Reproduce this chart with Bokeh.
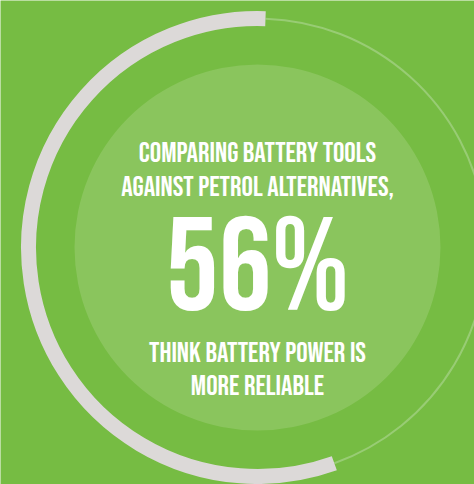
import math
from bokeh.plotting import figure
from bokeh.models import Range1d
from bokeh.core.properties import value
from bokeh.embed import file_html
from bokeh.resources import INLINE

# ---- data ----
percent = [56]
top_lines = ["COMPARING BATTERY TOOLS", "AGAINST PETROL ALTERNATIVES,"]
bottom_lines = ["THINK BATTERY POWER IS", "MORE RELIABLE"]
big_label = [f"{percent[0]}%"]

# ---- layout ----
W, H = 474, 484
cx, cy = 257, H - 247
R_ring = 229
R_inner = 183
start_deg = 88.0
end_deg = start_deg + percent[0] / 100 * 360

BG = "#76bc43"
INNER = "#8ac55d"
GREY = "#dcd9d8"
THIN = "#98cc74"
FONT = "Bebas Neue"

p = figure(width=W, height=H, x_range=Range1d(0, W), y_range=Range1d(0, H),
           x_axis_type=None, y_axis_type=None, toolbar_location=None,
           output_backend="svg", min_border=0)
p.grid.visible = False
p.outline_line_color = None
p.background_fill_color = BG
p.border_fill_color = BG

p.circle(x=[cx], y=[cy], radius=R_inner, fill_color=INNER, line_color=None)

# thin remainder track
p.arc(x=[cx], y=[cy], radius=R_ring, start_angle=math.radians(end_deg),
      end_angle=math.radians(start_deg + 360), direction="anticlock",
      line_color=THIN, line_width=2)
# grey progress arc
p.arc(x=[cx], y=[cy], radius=R_ring, start_angle=math.radians(start_deg),
      end_angle=math.radians(end_deg), direction="anticlock",
      line_color=GREY, line_width=15, line_cap="butt")

p.text(x=[cx, cx], y=[H - 152.5, H - 186.5], text=top_lines, text_align="center",
       text_baseline="middle", text_color="white",
       text_font=value(FONT), text_font_size="28.5px")
p.text(x=[cx], y=[H - 270], text=big_label, text_align="center",
       text_baseline="middle", text_color="white",
       text_font=value(FONT), text_font_size="132px")
p.text(x=[cx, cx], y=[H - 353, H - 385.5], text=bottom_lines, text_align="center",
       text_baseline="middle", text_color="white",
       text_font=value(FONT), text_font_size="28.5px")

open("out.html", "w").write(file_html(p, INLINE))
